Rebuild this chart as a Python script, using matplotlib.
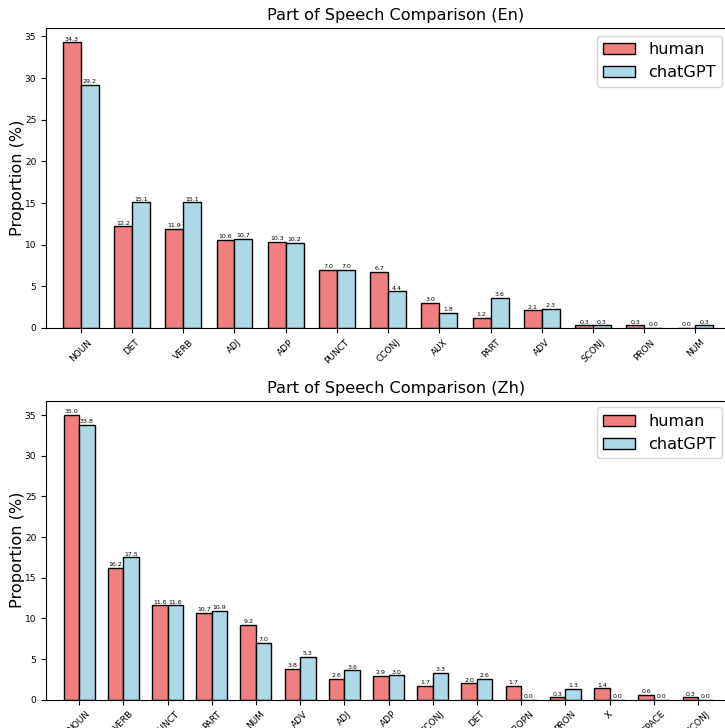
import numpy as np
from matplotlib import pyplot as plt

# English
en_tags = ['NOUN', 'DET', 'VERB', 'ADJ', 'ADP', 'PUNCT', 'CCONJ', 'AUX', 'PART', 'ADV', 'SCONJ', 'PRON', 'NUM']
en_human = [34.3, 12.2, 11.9, 10.6, 10.3, 7.0, 6.7, 3.0, 1.2, 2.1, 0.3, 0.3, 0.0]
en_gpt = [29.2, 15.1, 15.1, 10.7, 10.2, 7.0, 4.4, 1.8, 3.6, 2.3, 0.3, 0.0, 0.3]

# Chinese
zh_tags = ['NOUN', 'VERB', 'PUNCT', 'PART', 'NUM', 'ADV', 'ADJ', 'ADP', 'CCONJ', 'DET', 'PROPN', 'PRON', 'X', 'SPACE', 'SCONJ']
zh_human = [35.0, 16.2, 11.6, 10.7, 9.2, 3.8, 2.6, 2.9, 1.7, 2.0, 1.7, 0.3, 1.4, 0.6, 0.3]
zh_gpt = [33.8, 17.5, 11.6, 10.9, 7.0, 5.3, 3.6, 3.0, 3.3, 2.6, 0.0, 1.3, 0.0, 0.0, 0.0]


def draw(ax, tags, human, gpt, title, left, leg_top):
    x = np.arange(len(tags))
    w = 0.35
    b1 = ax.bar(x - w / 2, human, w, color='lightcoral', edgecolor='black', label='human')
    b2 = ax.bar(x + w / 2, gpt, w, color='lightblue', edgecolor='black', label='chatGPT')
    ax.bar_label(b1, fmt='%.1f', fontsize=4.5, padding=0.5)
    ax.bar_label(b2, fmt='%.1f', fontsize=4.5, padding=0.5)
    ax.set_xlim(left, len(tags) - 1 + w + 0.735 * (len(tags) - 1 + 2 * w) / 14.7)
    ax.set_title(title, fontsize=11.6)
    ax.set_ylabel('Proportion (%)', fontsize=11.6)
    ax.yaxis.set_label_coords(-0.03, 0.5)
    ax.set_xticks(x)
    ax.set_xticklabels(tags, rotation=45, fontsize=6.5)
    ax.tick_params(axis='y', labelsize=6.5)
    ax.legend(fontsize=11.6, loc='upper right', bbox_to_anchor=(0.966, leg_top), borderaxespad=0)


fig = plt.figure(figsize=(7.25, 7.28), dpi=100)
ax1 = fig.add_axes([0.0634, 0.5495, 0.9655, 0.412])
ax2 = fig.add_axes([0.0634, 0.0389, 0.9655, 0.4104])

draw(ax1, en_tags, en_human, en_gpt, 'Part of Speech Comparison (En)', -0.68, 0.974)
draw(ax2, zh_tags, zh_human, zh_gpt, 'Part of Speech Comparison (Zh)', -0.75, 0.978)

plt.savefig('out.png')
